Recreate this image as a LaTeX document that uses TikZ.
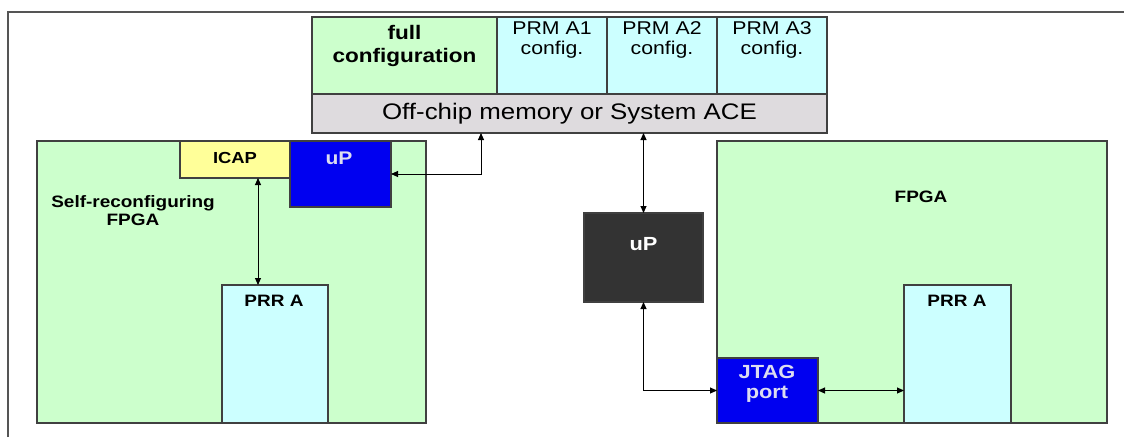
\documentclass[tikz,border=0pt]{standalone}
\usepackage{fontspec}
\setmainfont[FakeStretch=1.15]{Liberation Sans}
\usetikzlibrary{arrows.meta}
\definecolor{grn}{HTML}{CCFFCC}
\definecolor{cyn}{HTML}{CCFFFF}
\definecolor{yel}{HTML}{FFFF99}
\definecolor{blu}{HTML}{0000F0}
\definecolor{drk}{HTML}{333333}
\definecolor{memc}{HTML}{DEDBDE}
\definecolor{bordc}{HTML}{404040}
\definecolor{framec}{HTML}{555555}
\definecolor{lt}{HTML}{DCDCF0}
\newcommand{\fs}[1]{\fontsize{#1}{#1}\selectfont}
\begin{document}
\begin{tikzpicture}[x=1pt,y=-1pt,
  box/.style={draw=bordc, line width=1.1pt, rectangle, inner sep=0pt, outer sep=0pt, anchor=north west},
  lbl/.style={align=center, inner sep=0pt},
  arr/.style={draw=black, line width=0.9pt, {Triangle[length=7pt,width=6pt]}-{Triangle[length=7pt,width=6pt]}},
  frameline/.style={draw=framec, line width=2pt}]
\useasboundingbox (0,0) rectangle (1124,437);
\fill[white] (0,0) rectangle (1124,437);
\draw[frameline] (7.5,437) -- (7.5,11.5) -- (1124,11.5);

% memory block
\node[box, fill=grn, minimum width=185, minimum height=77] (full) at (312,17) {};
\node[box, fill=cyn, minimum width=110, minimum height=77] (a1) at (497,17) {};
\node[box, fill=cyn, minimum width=110, minimum height=77] (a2) at (607,17) {};
\node[box, fill=cyn, minimum width=110, minimum height=77] (a3) at (717,17) {};
\node[box, fill=memc, minimum width=515, minimum height=39, font=\fs{22.5}] (mem) at (312,94) {Off-chip memory or System ACE};
\node[lbl, font=\bfseries\fontsize{19.6}{23}\selectfont] (tfull) at (404.5,46) {full\\configuration};
\node[lbl, font=\fontsize{18.5}{20}\selectfont] (ta1) at (552,40) {PRM A1\\config.};
\node[lbl, font=\fontsize{18.5}{20}\selectfont] (ta2) at (662,40) {PRM A2\\config.};
\node[lbl, font=\fontsize{18.5}{20}\selectfont] (ta3) at (772,40) {PRM A3\\config.};

% left FPGA
\node[box, fill=grn, minimum width=389, minimum height=282] (fpgaL) at (37,141) {};
\node[box, fill=yel, minimum width=110, minimum height=37] (icap) at (180,141) {};
\node[box, fill=blu, minimum width=101, minimum height=66] (upL) at (290,141) {};
\node[box, fill=cyn, minimum width=106, minimum height=138] (prrL) at (222,285) {};
\node[lbl, font=\bfseries\fs{16}, anchor=base] (ticap) at (235,163) {ICAP};
\node[lbl, font=\bfseries\fs{18.3}, text=lt, anchor=base] (tupL) at (339,164) {uP};
\node[lbl, font=\bfseries\fontsize{16.5}{18}\selectfont] (tself) at (133,211) {Self-reconfiguring\\FPGA};
\node[lbl, font=\bfseries\fs{16.5}, anchor=base] (tprrL) at (274,306) {PRR A};

% processor
\node[box, fill=drk, minimum width=119, minimum height=89] (upD) at (584,213) {};
\node[lbl, font=\bfseries\fs{19}, text=white, anchor=base] (tupD) at (643.5,250) {uP};

% right FPGA
\node[box, fill=grn, minimum width=390, minimum height=282] (fpgaR) at (717,141) {};
\node[box, fill=cyn, minimum width=107, minimum height=138] (prrR) at (904,285) {};
\node[box, fill=blu, minimum width=101, minimum height=65] (jtag) at (717,358) {};
\node[lbl, font=\bfseries\fs{16.5}, anchor=base] (tfpga) at (921,202) {FPGA};
\node[lbl, font=\bfseries\fs{16.5}, anchor=base] (tprrR) at (957,306) {PRR A};
\node[lbl, font=\bfseries\fontsize{19}{20}\selectfont, text=lt] (tjtag) at (767,384) {JTAG\\port};

% connectors
\coordinate (m1) at (481,133);
\coordinate (c1) at (258,300);
\draw[arr] (upL.east) -| (m1);
\draw[arr] (icap.south -| c1) -- (prrL.north -| c1);
\draw[arr] (mem.south -| upD.north) -- (upD.north);
\draw[arr] (upD.south) |- (jtag.west);
\draw[arr] (jtag.east) -- (jtag.east -| prrR.west);
\end{tikzpicture}
\end{document}
